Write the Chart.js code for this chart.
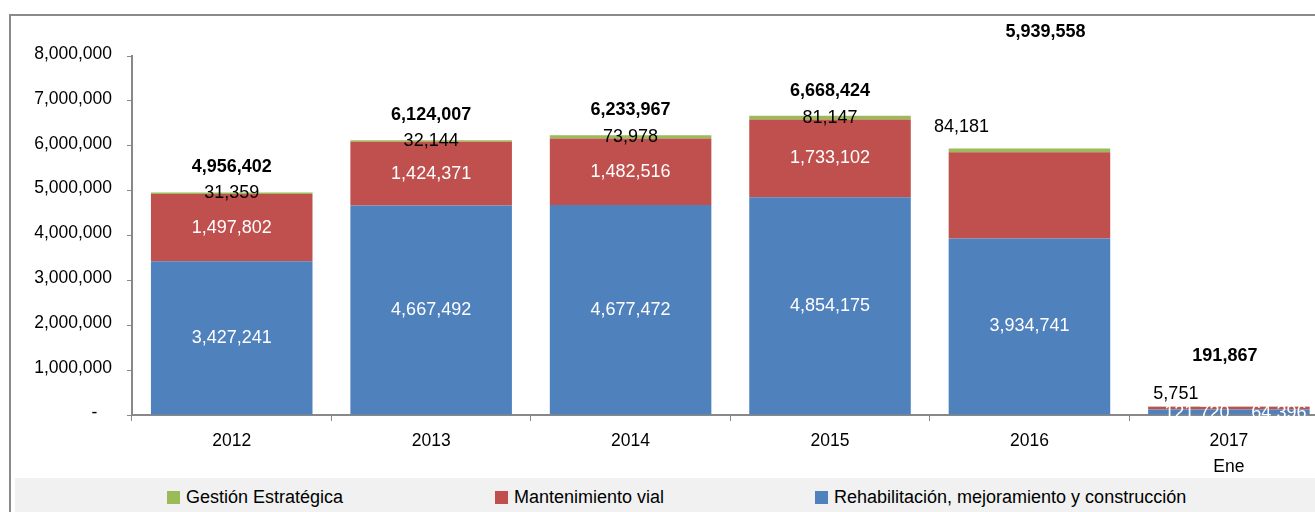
<!DOCTYPE html>
<html>
<head>
<meta charset="utf-8">
<script src="https://cdn.jsdelivr.net/npm/chart.js@4.4.1/dist/chart.umd.min.js"></script>
<style>
  html, body { margin: 0; padding: 0; overflow: hidden; background: #fff; width: 1315px; height: 512px; }
  #frame { position: absolute; left: 9px; top: 14px; width: 1400px; height: 600px;
           border-left: 2px solid #8a8a8a; border-top: 2px solid #8a8a8a; }
  #wrap { position: absolute; left: 0; top: 0; width: 1330px; height: 478px; }
  #legend { position: absolute; left: 15px; top: 478px; width: 1400px; height: 40px; background: #f1f1f1;
            font-family: "Liberation Sans", Arial, sans-serif; font-size: 18px; color: #000; }
  #legend .item { position: absolute; top: 0; height: 38px; display: flex; align-items: center; white-space: nowrap; }
  #legend .box { width: 13px; height: 13px; margin-right: 6px; }
</style>
</head>
<body>
<div id="frame"></div>
<div id="wrap"><canvas id="c" width="1330" height="478"></canvas></div>
<div id="legend"></div>
<script>
// ---- data ----
const categories = ['2012', '2013', '2014', '2015', '2016', ['2017', 'Ene']];
const rehabilitacion = [3427241, 4667492, 4677472, 4854175, 3934741, 121720];
const mantenimiento = [1497802, 1424371, 1482516, 1733102, 1920636, 64396];
const gestion = [31359, 32144, 73978, 81147, 84181, 5751];
const totals = [4956402, 6124007, 6233967, 6668424, 5939558, 191867];
const yTicks = [0, 1000000, 2000000, 3000000, 4000000, 5000000, 6000000, 7000000, 8000000];
const seriesNames = ['Rehabilitación, mejoramiento y construcción', 'Mantenimiento vial', 'Gestión Estratégica'];
const showMantLabel = [true, true, true, true, false, true];

// ---- styling ----
const colors = ['#4F81BD', '#C0504D', '#9BBB59'];
const FONT = '"Liberation Sans", Arial, sans-serif';
const FS = 17.5;
const LFS = 18;
// label nudges in px [dx, dy]
const shiftRehab = [[0,0],[0,0],[0,0],[0,0],[0,0],[-32,1]];
const shiftMant = [[0,0],[0,0],[0,0],[0,0],[0,0],[50,5]];
const shiftGest = [[0,0],[0,0],[0,0],[0,0],[-68,-23],[-53,-12]];
const shiftTotal = [[0,-26],[0,-25],[0,-25],[0,-25],[16,-116],[-4,-50]];

const fmt = v => v.toLocaleString('en-US');

const labelsPlugin = {
  id: 'valueLabels',
  afterDatasetsDraw(chart) {
    const ctx = chart.ctx;
    ctx.save();
    ctx.textAlign = 'center';
    ctx.textBaseline = 'middle';
    const specs = [
      { data: rehabilitacion, color: '#fff', shift: shiftRehab, show: null },
      { data: mantenimiento, color: '#fff', shift: shiftMant, show: showMantLabel },
      { data: gestion, color: '#000', shift: shiftGest, show: null }
    ];
    specs.forEach((s, di) => {
      const meta = chart.getDatasetMeta(di);
      ctx.font = LFS + 'px ' + FONT;
      ctx.fillStyle = s.color;
      meta.data.forEach((bar, j) => {
        if (s.show && !s.show[j]) return;
        const cy = (bar.y + bar.base) / 2;
        ctx.fillText(fmt(s.data[j]), bar.x + s.shift[j][0], cy + s.shift[j][1]);
      });
    });
    const topMeta = chart.getDatasetMeta(2);
    ctx.font = 'bold ' + LFS + 'px ' + FONT;
    ctx.fillStyle = '#000';
    topMeta.data.forEach((bar, j) => {
      ctx.fillText(fmt(totals[j]), bar.x + shiftTotal[j][0], bar.y + shiftTotal[j][1]);
    });
    ctx.restore();
  }
};

const chart = new Chart(document.getElementById('c'), {
  type: 'bar',
  data: {
    labels: categories,
    datasets: [
      { label: seriesNames[0], data: rehabilitacion, backgroundColor: colors[0] },
      { label: seriesNames[1], data: mantenimiento, backgroundColor: colors[1] },
      { label: seriesNames[2], data: gestion, backgroundColor: colors[2] }
    ]
  },
  options: {
    responsive: false,
    animation: false,
    devicePixelRatio: 1,
    barPercentage: 0.81,
    categoryPercentage: 1,
    layout: { padding: { top: 56, right: 1.4, left: 0, bottom: 0 } },
    plugins: { legend: { display: false }, tooltip: { enabled: false } },
    scales: {
      x: {
        stacked: true,
        border: { display: true, color: '#888', width: 2 },
        grid: { display: true, drawOnChartArea: false, drawTicks: true, tickLength: 6, color: '#888', offset: true },
        ticks: { color: '#000', padding: 7, font: { family: FONT, size: FS, lineHeight: 1.5 }, maxRotation: 0, autoSkip: false },
        afterFit: s => { s.height = 63; }
      },
      y: {
        stacked: true,
        min: 0,
        max: 8000000,
        border: { display: true, color: '#888', width: 2 },
        grid: { display: true, drawOnChartArea: false, drawTicks: true, tickLength: 5, color: '#888' },
        afterBuildTicks: s => { s.ticks = yTicks.map(v => ({ value: v })); },
        ticks: {
          color: '#000', padding: 15, labelOffset: -2,
          font: { family: FONT, size: FS },
          callback: v => v === 0 ? '-   ' : fmt(v)
        },
        afterFit: s => { s.width = 132; }
      }
    }
  },
  plugins: [labelsPlugin]
});

// HTML legend built from the chart's datasets
(function buildLegend() {
  const legend = document.getElementById('legend');
  const order = [2, 1, 0];
  const starts = [152, 480, 800];
  order.forEach((di, k) => {
    const ds = chart.data.datasets[di];
    const item = document.createElement('div');
    item.className = 'item';
    item.style.left = starts[k] + 'px';
    const box = document.createElement('span');
    box.className = 'box';
    box.style.background = ds.backgroundColor;
    const txt = document.createElement('span');
    txt.textContent = ds.label;
    item.appendChild(box);
    item.appendChild(txt);
    legend.appendChild(item);
  });
})();
</script>
</body>
</html>
